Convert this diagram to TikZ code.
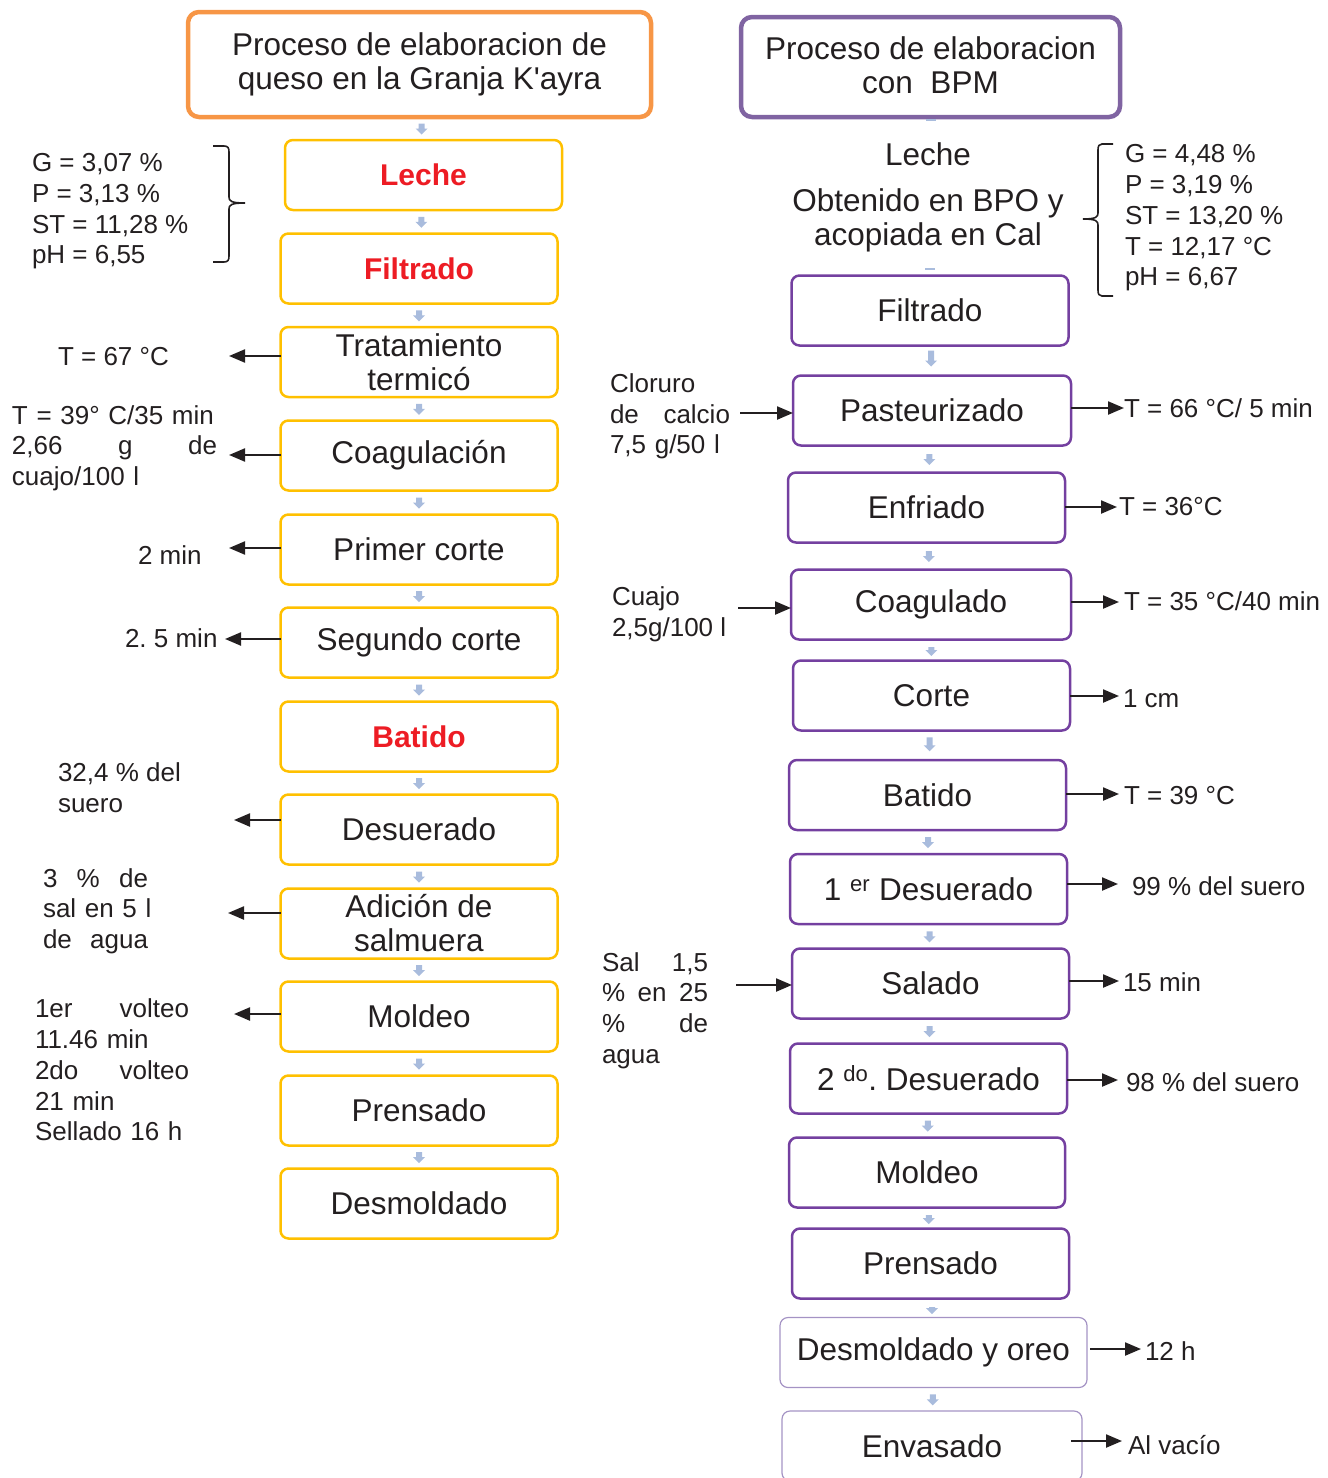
\documentclass[tikz,border=0pt]{standalone}
\usepackage{fontspec}
\setmainfont{Liberation Sans}
\usepackage{tikz}
\usetikzlibrary{arrows.meta}
\usetikzlibrary{calc}
\usetikzlibrary{positioning}

\definecolor{kayraOrange}{HTML}{F79646}
\definecolor{kayraYellow}{HTML}{FFC000}
\definecolor{titlePurple}{HTML}{8064A2}
\definecolor{bpmPurple}{HTML}{7440A0}
\definecolor{palePurple}{HTML}{A493C4}
\definecolor{stepRed}{HTML}{ED1C24}
\definecolor{flowBlue}{HTML}{A9BCDD}
\definecolor{inkBlack}{HTML}{231F20}

\newcommand\boxfont{\fontsize{31.5}{34}\selectfont}
\newcommand\redfont{\fontsize{30}{34}\selectfont\bfseries}
\newcommand\sidefont{\fontsize{26}{30.7}\selectfont}

\tikzset{
% Define standard arrow tip
>={Triangle[length=16pt 0, width=13pt 0]},
flowbox/.style={rectangle, rounded corners=8pt, align=center,
  minimum width=277pt, minimum height=70pt, font=\boxfont, text=inkBlack},
yellowbox/.style={flowbox, draw=kayraYellow, line width=2.5pt},
purplebox/.style={flowbox, draw=bpmPurple, line width=2.5pt},
palebox/.style={flowbox, draw=palePurple, line width=1.2pt},
titlebox/.style={flowbox, line width=4.5pt, rounded corners=11pt},
redstep/.style={font=\redfont, text=stepRed},
plainstep/.style={font=\boxfont, text=inkBlack, align=center},
sidetext/.style={anchor=west, align=left, font=\sidefont, text=inkBlack},
sidearrow/.style={->, line width=2.2pt, draw=inkBlack, fill=inkBlack},
bracepen/.style={line width=1.6pt, draw=inkBlack},
pics/flowdown/.style={code={
  \fill[flowBlue] (-3,-#1) -- (3,-#1) -- (3,0) -- (6,0) -- (0,6) -- (-6,0) -- (-3,0) -- cycle;}},
pics/flowdown/.default=5,
pics/flowstub/.style={code={\fill[flowBlue] (-5,-1) rectangle (5,1);}}
}

\begin{document}
\frenchspacing
\begin{tikzpicture}[x=1pt, y=-1pt, inner sep=0, outer sep=0]
  \useasboundingbox (0,0) rectangle (1328,1478);

  % left column: Granja K'ayra
  \node[titlebox, draw=kayraOrange, minimum width=463pt, minimum height=105pt] (titleL) at (419.5,64.5) {};
  \node[plainstep] (titleLtext) at (419.5,64) {Proceso de elaboracion de\\queso en la Granja K\textquotesingle ayra};
  \node[yellowbox, redstep] (lecheL) at (423.5,175) {Leche};
  \node[yellowbox, redstep] (filtL) at (419,268.5) {Filtrado};
  \node[yellowbox] (tratam) at (419,362) {Tratamiento\\termicó};
  \node[yellowbox] (coagL) at (419,455.5) {Coagulación};
  \node[yellowbox] (corte1) at (419,549.5) {Primer corte};
  \node[yellowbox] (corte2) at (419,642.5) {Segundo corte};
  \node[yellowbox, redstep] (batidoL) at (419,736.5) {Batido};
  \node[yellowbox] (desuL) at (419,829.5) {Desuerado};
  \node[yellowbox] (salmu) at (419,923.5) {Adición de\\salmuera};
  \node[yellowbox] (moldL) at (419,1016.5) {Moldeo};
  \node[yellowbox] (prensL) at (419,1110.5) {Prensado};
  \node[yellowbox] (desmL) at (419,1203.5) {Desmoldado};

  \pic at ($(titleL.south)!0.5!(lecheL.north)$) {flowdown};
  \pic at ($(lecheL.south)!0.5!(filtL.north)$) {flowdown};
  \pic at ($(filtL.south)!0.5!(tratam.north)$) {flowdown};
  \pic at ($(tratam.south)!0.5!(coagL.north)$) {flowdown};
  \pic at ($(coagL.south)!0.5!(corte1.north)$) {flowdown};
  \pic at ($(corte1.south)!0.5!(corte2.north)$) {flowdown};
  \pic at ($(corte2.south)!0.5!(batidoL.north)$) {flowdown};
  \pic at ($(batidoL.south)!0.5!(desuL.north)$) {flowdown};
  \pic at ($(desuL.south)!0.5!(salmu.north)$) {flowdown};
  \pic at ($(salmu.south)!0.5!(moldL.north)$) {flowdown};
  \pic at ($(moldL.south)!0.5!(prensL.north)$) {flowdown};
  \pic at ($(prensL.south)!0.5!(desmL.north)$) {flowdown};

  % left notes
  \node[sidetext] (milkL) at (32,211.5) {G = 3,07 \%\\P = 3,13 \%\\ST = 11,28 \%\\pH = 6,55};
  \draw[bracepen] (213,146) -- (224,146) .. controls (228,146) and (229,148) .. (229,152) -- (229,197)
    .. controls (229,201) and (231,203) .. (245,203)
    .. controls (231,203) and (229,205) .. (229,209) -- (229,256)
    .. controls (229,260) and (228,262) .. (224,262) -- (213,262);

  \node[sidetext] (txtT67) at (58,357) {T = 67 °C};
  \node[sidetext, text width=205pt] (txtCoag) at (12,448) {T = 39° C/35 min\\2,66\hfill g\hfill de\\cuajo/100 l};
  \node[sidetext] (txtCorte1) at (138,555) {2 min};
  \node[sidetext] (txtCorte2) at (125,638) {2. 5 min};
  \node[sidetext] (txtDesu) at (58,788) {32,4 \% del\\suero};
  \node[sidetext, text width=105pt] (txtSalmu) at (43,911) {3\hfill \%\hfill de\\\mbox{sal en 5 l}\\de\hfill agua};
  \node[sidetext, text width=154pt] (txtMold) at (35,1070) {1er\hfill volteo\\11.46 min\\2do\hfill volteo\\21 min\\Sellado 16 h};

  \coordinate (tT67) at (229,356);
  \coordinate (tCoag) at (229,455);
  \coordinate (tCorte1) at (229,548);
  \coordinate (tCorte2) at (225,639);
  \coordinate (tDesu) at (234,820);
  \coordinate (tSalmu) at (228,913);
  \coordinate (tMold) at (234,1014);
  \draw[sidearrow] (tratam.west |- tT67) -- (tT67);
  \draw[sidearrow] (coagL.west |- tCoag) -- (tCoag);
  \draw[sidearrow] (corte1.west |- tCorte1) -- (tCorte1);
  \draw[sidearrow] (corte2.west |- tCorte2) -- (tCorte2);
  \draw[sidearrow] (desuL.west |- tDesu) -- (tDesu);
  \draw[sidearrow] (salmu.west |- tSalmu) -- (tSalmu);
  \draw[sidearrow] (moldL.west |- tMold) -- (tMold);

  % right column: BPM
  \node[titlebox, draw=titlePurple, minimum width=379pt, minimum height=100pt] (titleR) at (930.5,67) {};
  \node[plainstep] (titleRtext) at (930.5,65.5) {Proceso de elaboracion\\con\ \ BPM};
  \node[plainstep] (lecheR) at (928,154) {Leche};
  \node[plainstep] (origen) at (928,220) {Obtenido en BPO y\\acopiada en Cal};
  \node[purplebox] (filtR) at (930,310.5) {Filtrado};
  \node[purplebox, minimum width=278pt] (paste) at (932,410.5) {Pasteurizado};
  \node[purplebox] (enfri) at (926.5,507.5) {Enfriado};
  \node[purplebox, minimum width=280pt] (coagR) at (931,604.5) {Coagulado};
  \node[purplebox] (corteR) at (931.5,695.5) {Corte};
  \node[purplebox] (batidoR) at (927.5,795) {Batido};
  \node[purplebox] (desu1) at (928.5,889) {1 \textsuperscript{er} Desuerado};
  \node[purplebox] (salado) at (930.5,983.5) {Salado};
  \node[purplebox] (desu2) at (928.5,1078.5) {2 \textsuperscript{do}. Desuerado};
  \node[purplebox, minimum width=276pt] (moldR) at (927,1172.5) {Moldeo};
  \node[purplebox] (prensR) at (930.5,1263.5) {Prensado};
  \node[palebox, minimum width=307pt] (desmR) at (933.5,1352.5) {Desmoldado y oreo};
  \node[palebox, minimum width=300pt] (envas) at (932,1446) {Envasado};

  \pic at ($(titleR.south)+(0,3)$) {flowstub};
  \pic at ($(filtR.north)+(0,-7)$) {flowstub};
  \pic at ($(filtR.south)!0.5!(paste.north)$) {flowdown=10};
  \pic at ($(paste.south)!0.5!(enfri.north)$) {flowdown};
  \pic at ($(enfri.south)!0.5!(coagR.north)$) {flowdown};
  \pic at ($(coagR.south)!0.5!(corteR.north)$) {flowdown=3};
  \pic at ($(corteR.south)!0.5!(batidoR.north)$) {flowdown=8};
  \pic at ($(batidoR.south)!0.5!(desu1.north)$) {flowdown};
  \pic at ($(desu1.south)!0.5!(salado.north)$) {flowdown};
  \pic at ($(salado.south)!0.5!(desu2.north)$) {flowdown};
  \pic at ($(desu2.south)!0.5!(moldR.north)$) {flowdown};
  \pic at ($(moldR.south)!0.5!(prensR.north)$) {flowdown=3};
  \pic at ($(prensR.south)!0.5!(desmR.north)$) {flowdown=1};
  \pic at ($(desmR.south)!0.5!(envas.north)$) {flowdown};

  % right notes
  \node[sidetext] (milkR) at (1125,218) {G = 4,48 \%\\P = 3,19 \%\\ST = 13,20 \%\\T = 12,17 °C\\pH = 6,67};
  \draw[bracepen] (1113,144) -- (1102,144) .. controls (1099,144) and (1098,146) .. (1098,150) -- (1098,213)
    .. controls (1098,217) and (1096,219) .. (1083,219)
    .. controls (1096,219) and (1098,221) .. (1098,225) -- (1098,290)
    .. controls (1098,294) and (1099,296) .. (1102,296) -- (1113,296);

  \node[sidetext, text width=120pt] (txtCloruro) at (610,416.5) {Cloruro\\de\hfill calcio\\7,5 g/50 l};
  \node[sidetext] (txtCuajo) at (612,614) {Cuajo\\2,5g/100 l};
  \node[sidetext, text width=106pt] (txtSal) at (602,1010.5) {Sal\hfill 1,5\\\%\hfill en\hfill 25\\\%\hfill de\\agua};

  \coordinate (sCloruro) at (740,413);
  \coordinate (sCuajo) at (738,608);
  \coordinate (sSal) at (736,985);
  \draw[sidearrow] (sCloruro) -- (paste.west |- sCloruro);
  \draw[sidearrow] (sCuajo) -- (coagR.west |- sCuajo);
  \draw[sidearrow] (sSal) -- (salado.west |- sSal);

  \node[sidetext] (txtPaste) at (1124,408) {T = 66 °C/ 5 min};
  \node[sidetext] (txtEnfri) at (1119,507) {T = 36°C};
  \node[sidetext] (txtCoagR) at (1124,601) {T = 35 °C/40 min};
  \node[sidetext] (txtCorteR) at (1123,699) {1 cm};
  \node[sidetext] (txtBatido) at (1124,796) {T = 39 °C};
  \node[sidetext] (txtDesu1) at (1132,886) {99 \% del suero};
  \node[sidetext] (txtSalado) at (1123,982) {15 min};
  \node[sidetext] (txtDesu2) at (1126,1082) {98 \% del suero};
  \node[sidetext] (txtDesm) at (1145,1351) {12 h};
  \node[sidetext] (txtEnvas) at (1128,1445) {Al vacío};

  \coordinate (tPaste) at (1124,408);
  \coordinate (tEnfri) at (1117,507);
  \coordinate (tCoagR) at (1119,602);
  \coordinate (tCorteR) at (1119,696);
  \coordinate (tBatido) at (1119,794);
  \coordinate (tDesu1) at (1118,884);
  \coordinate (tSalado) at (1119,981);
  \coordinate (tDesu2) at (1118,1080);
  \coordinate (sDesm) at (1090,1349);
  \coordinate (tDesm) at (1141,1349);
  \coordinate (sEnvas) at (1071,1441);
  \coordinate (tEnvas) at (1122,1441);
  \draw[sidearrow] (paste.east |- tPaste) -- (tPaste);
  \draw[sidearrow] (enfri.east |- tEnfri) -- (tEnfri);
  \draw[sidearrow] (coagR.east |- tCoagR) -- (tCoagR);
  \draw[sidearrow] (corteR.east |- tCorteR) -- (tCorteR);
  \draw[sidearrow] (batidoR.east |- tBatido) -- (tBatido);
  \draw[sidearrow] (desu1.east |- tDesu1) -- (tDesu1);
  \draw[sidearrow] (salado.east |- tSalado) -- (tSalado);
  \draw[sidearrow] (desu2.east |- tDesu2) -- (tDesu2);
  \draw[sidearrow] (sDesm) -- (tDesm);
  \draw[sidearrow] (sEnvas) -- (tEnvas);
\end{tikzpicture}
\end{document}
